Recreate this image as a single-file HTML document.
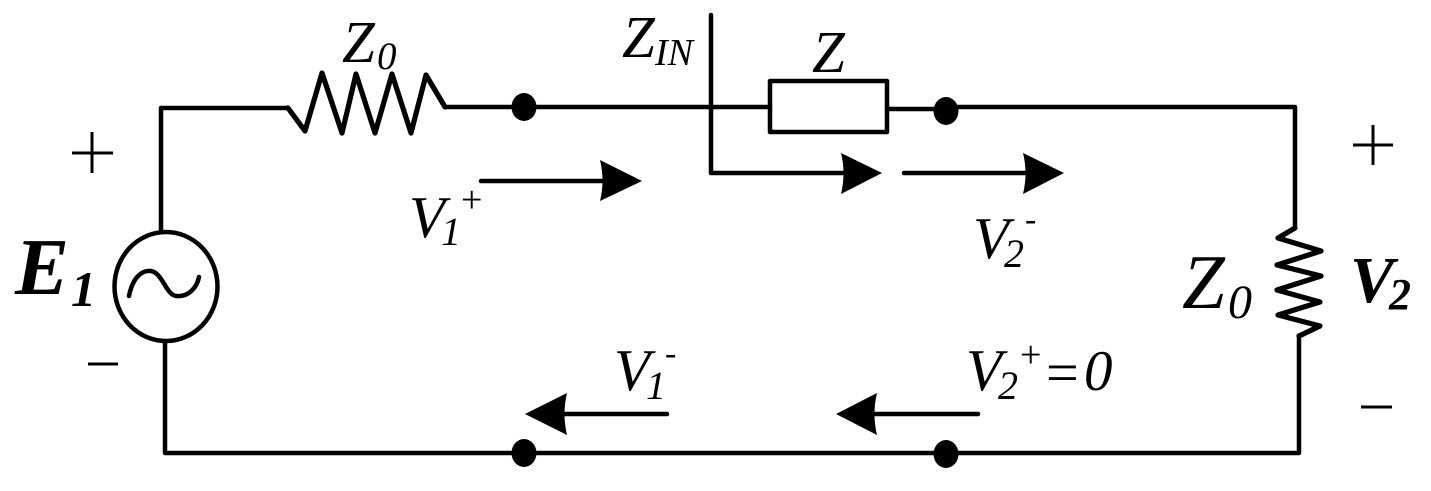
<!DOCTYPE html>
<html>
<head>
<meta charset="utf-8">
<style>
html,body{margin:0;padding:0;background:#fff;width:1431px;height:491px;overflow:hidden}
svg{display:block}
text{font-family:"Liberation Serif",serif;font-style:italic;fill:#000}
.b{font-weight:bold}
.n{font-style:normal}
</style>
</head>
<body>
<svg width="1431" height="491" viewBox="0 0 1431 491" xmlns="http://www.w3.org/2000/svg">
<g fill="none" stroke="#000" stroke-width="4.5" stroke-linejoin="round" stroke-linecap="round">
  <!-- left wire -->
  <polyline points="161,231 161,108 288,108"/>
  <line x1="445" y1="107" x2="524" y2="107"/>
  <!-- top wire -->
  <line x1="524" y1="107" x2="770" y2="107"/>
  <rect x="770" y="81" width="117" height="51"/>
  <line x1="887" y1="109" x2="946" y2="109"/>
  <!-- right and bottom wires -->
  <polyline points="946,107 1295,107 1295,228"/>
  <polyline points="1299,336 1299,453 165,453 165,342"/>
  <!-- source -->
  <ellipse cx="166" cy="286.5" rx="51.5" ry="54.5"/>
  <path d="M129,296 C133,276 143,270 151,271 C163,273 166,296 177,296 C189,297 197,287 199,277"/>
  <!-- ZIN line -->
  <polyline points="711,15 711,173 848,173"/>
  <!-- arrow shafts -->
  <line x1="904" y1="173" x2="1030" y2="173"/>
  <line x1="481" y1="181" x2="610" y2="181"/>
  <line x1="667" y1="414" x2="560" y2="414"/>
  <line x1="978" y1="414" x2="870" y2="414"/>
</g>
<!-- resistors -->
<g fill="none" stroke="#000" stroke-width="5.2" stroke-linejoin="round" stroke-linecap="round">
  <polyline points="288,108 305,131 322,73 342,133 356,74 375,133 392,74 411,133 426,75 445,107"/>
  <polyline points="1295,228 1278,238 1321,251 1277,265 1321,276 1277,290 1320,302 1278,315 1320,326 1299,336"/>
</g>
<g fill="#000">
  <!-- junction dots -->
  <ellipse cx="524" cy="107" rx="12.5" ry="14"/>
  <ellipse cx="946" cy="111" rx="12.5" ry="14"/>
  <ellipse cx="524" cy="453" rx="12.5" ry="14"/>
  <ellipse cx="946" cy="454" rx="12.5" ry="14"/>
  <!-- arrowheads -->
  <path d="M882,173 L841,153 Q846,173 841,194 Z"/>
  <path d="M1064,173 L1023,153 Q1028,173 1023,194 Z"/>
  <path d="M642,181 L600,160 Q605,181 600,201 Z"/>
  <path d="M525,414 L567,393 Q562,414 567,435 Z"/>
  <path d="M836,414 L877,393 Q872,414 877,435 Z"/>
</g>
<!-- polarity signs -->
<g fill="none" stroke="#000" stroke-width="3">
  <path d="M72,153 H113 M92,132 V173"/>
  <path d="M88,364 H118"/>
  <path d="M1353,145 H1393 M1373,125 V165"/>
  <path d="M1361,407 H1392"/>
</g>
<!-- labels -->
<text x="342" y="62" font-size="59">Z</text>
<text x="377" y="69" font-size="39">0</text>
<text x="622" y="57" font-size="59">Z</text>
<text x="655" y="65" font-size="38">IN</text>
<text x="812" y="72" font-size="59">Z</text>
<text x="409" y="237" font-size="59">V</text>
<text x="441" y="245" font-size="40">1</text>
<text class="n" x="461" y="212" font-size="38">+</text>
<text x="614" y="390" font-size="59">V</text>
<text x="646" y="399" font-size="40">1</text>
<text class="n" x="665" y="364" font-size="34">-</text>
<text x="973" y="258" font-size="59">V</text>
<text x="1004" y="267" font-size="40">2</text>
<text class="n" x="1025" y="230" font-size="34">-</text>
<text x="966" y="390" font-size="59">V</text>
<text x="998" y="399" font-size="40">2</text>
<text class="n" x="1020" y="367" font-size="38">+</text>
<text class="n" x="1046" y="392" font-size="58">=</text>
<text x="1084" y="390" font-size="57">0</text>
<text x="1182" y="308" font-size="77">Z</text>
<text x="1228" y="318" font-size="48">0</text>
<text class="b" x="1350" y="302" font-size="66">V</text>
<text class="b" x="1389" y="309" font-size="44">2</text>
<text class="b" x="15" y="294" font-size="81">E</text>
<text class="b" x="71" y="306" font-size="50">1</text>
</svg>
</body>
</html>
